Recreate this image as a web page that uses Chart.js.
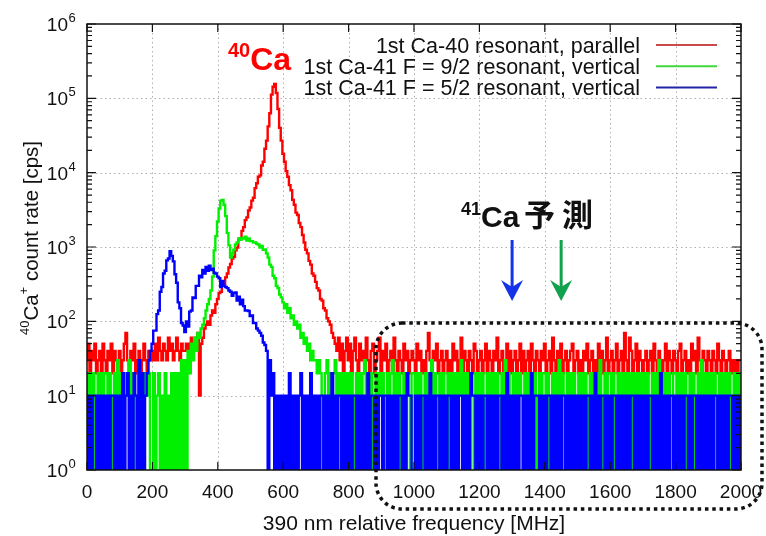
<!DOCTYPE html>
<html>
<head>
<meta charset="utf-8">
<script src="https://cdn.jsdelivr.net/npm/chart.js@4.4.1/dist/chart.umd.min.js"></script>
<style>
  html, body { margin: 0; padding: 0; background: #fff; }
  #wrap { position: relative; width: 766px; height: 536px; }
</style>
</head>
<body>
<div id="wrap"><canvas id="spectrum"></canvas></div>
<script>
'use strict';

// ******** DATA (one value every 5 MHz) ********************************
const stepMHz = 5;

// 1st Ca-40 resonant, parallel  [cps]
const redCps = [
  30,50,20,40,30,50,20,30,40,20,50,30,20,40,30,50,20,40,30,20,       // 0-95
  40,20,30,50,70,30,20,40,30,50,20,30,40,20,30,50,30,20,40,30,       // 100-195
  40,30,50,30,60,40,30,50,40,30,60,40,50,30,40,60,40,30,50,40,       // 200-295
  40,50,40,50,60,50,50,60,70,10,50,60,80,90,100,90,120,140,130,170,  // 300-395
  200,240,250,310,320,390,440,530,590,700,740,900,980,1250,1300,1650,1850,2300,2500,3100, // 400-495
  3400,4200,4600,6200,7200,8800,9200,12500,14000,21000,27000,42000,63000,112000,143000,156000,118000,72000,40000,27000, // 500-595
  18000,14000,10500,8800,6800,5800,4300,3700,2900,2700,2100,1850,1450,1150,920,820,650,580,440,410, // 600-695
  340,280,260,200,190,150,140,110,100,90,70,60,50,40,60,30,50,20,40,60, // 700-795
  30,50,20,40,60,30,20,50,30,40,20,60,30,20,40,50,20,30,40,60,       // 800-895
  20,40,30,50,20,30,40,20,60,30,20,40,30,20,50,30,40,20,30,40,       // 900-995
  30,20,50,30,40,20,30,20,40,70,30,20,40,30,50,20,30,40,20,30,       // 1000-1095
  40,20,30,20,50,30,40,20,30,60,20,40,30,20,40,30,20,50,40,20,       // 1100-1195
  30,40,20,30,50,20,40,30,20,40,30,60,20,30,40,20,30,50,20,40,       // 1200-1295
  20,30,40,20,30,50,20,40,20,30,40,20,50,30,20,40,30,20,40,30,       // 1300-1395
  50,20,30,40,20,60,30,20,40,30,50,20,30,40,20,30,40,50,20,30,       // 1400-1495
  40,20,30,20,40,30,50,20,30,40,20,30,20,50,30,40,20,30,60,20,       // 1500-1595
  30,40,20,30,50,20,30,40,20,70,30,20,60,40,20,30,50,20,40,30,       // 1600-1695
  20,30,40,20,30,40,20,50,30,20,40,30,20,30,50,20,40,30,20,40,       // 1700-1795
  30,20,40,50,20,30,40,20,30,20,50,30,40,20,60,30,20,40,30,20,       // 1800-1895
  40,30,20,40,30,20,50,30,20,40,30,20,30,40,20,30,20,30,20,30,       // 1900-1995
  30
];

// 1st Ca-41 F = 9/2 resonant, vertical  [cps]  (1 = no counts)
const greenCps = [
  20,10,20,10,20,1,10,20,10,20,10,20,20,10,20,10,1,20,10,30,
  10,20,10,20,10,20,30,10,20,10,1,10,20,10,20,10,20,10,20,1,
  1,20,1,10,20,1,10,1,20,1,10,1,20,1,20,1,20,1,30,1,
  30,1,40,20,50,30,60,40,70,60,80,90,110,140,170,200,260,400,900,1400,
  2200,3300,4200,4300,3700,2600,1550,1050,720,820,920,1080,1150,1300,1250,1320,1300,1380,1220,1300,
  1200,1200,1150,1150,1100,1080,980,1030,920,930,820,720,580,540,410,380,300,280,230,210,
  180,150,170,130,150,110,120,90,100,80,90,60,70,50,60,40,50,30,40,30,
  30,20,30,20,1,10,20,30,10,20,10,20,30,10,20,1,20,10,20,10,
  20,10,20,10,1,20,10,20,10,20,30,10,20,10,20,1,10,20,10,20,
  10,20,10,1,20,10,20,30,10,20,10,20,1,10,20,10,20,10,1,20,
  20,10,20,10,20,10,1,20,10,20,10,30,10,20,10,1,20,10,20,10,
  10,20,1,20,10,20,10,20,10,30,1,20,10,20,10,20,10,1,20,10,
  20,10,20,10,1,20,10,20,10,20,10,20,10,1,20,10,30,10,20,10,
  10,20,10,20,10,20,10,1,20,10,20,10,20,10,20,1,10,20,10,20,
  20,10,20,1,10,20,10,20,10,30,10,20,1,10,20,10,20,10,20,10,
  10,20,10,20,10,20,10,1,20,10,20,10,20,10,30,10,1,20,10,20,
  20,10,20,1,10,20,10,20,10,20,10,20,10,20,1,20,10,20,10,20,
  10,20,10,20,10,1,20,10,20,10,30,10,20,10,20,10,20,10,1,20,
  20,10,20,10,20,10,20,1,10,20,10,20,1,10,20,10,30,10,20,10,
  20,10,20,10,20,1,10,20,10,20,10,20,10,20,1,10,20,10,20,10,
  20
];

// 1st Ca-41 F = 5/2 resonant, vertical  [cps]  (1 = no counts)
const blueCps = [
  10,1,10,1,10,10,1,10,1,10,1,10,1,10,1,10,10,1,10,1,
  10,1,20,1,10,20,1,10,1,20,10,1,30,1,20,1,10,20,30,40,
  50,75,75,125,140,250,290,440,480,660,700,880,760,640,430,330,180,150,95,88,
  72,100,85,135,140,210,205,300,300,410,390,490,440,540,480,560,490,510,450,440,
  400,380,290,350,300,290,280,260,250,220,240,245,190,215,170,195,160,140,140,138,
  118,120,95,95,80,75,70,64,52,48,40,1,30,10,20,1,10,1,10,1,
  10,1,10,1,20,1,10,1,10,1,10,20,1,10,1,10,1,20,1,10,
  1,10,1,10,10,1,10,1,10,1,20,1,10,1,10,10,1,10,1,10,
  1,10,1,10,10,1,10,1,10,1,10,1,20,1,10,10,1,10,1,10,
  10,1,10,10,1,10,1,10,1,10,1,10,10,1,10,1,20,10,10,1,
  1,10,1,10,1,10,10,1,10,1,20,1,10,1,10,10,1,10,1,10,
  1,10,10,1,10,1,10,1,10,10,1,10,1,10,1,20,10,10,1,10,
  1,10,1,10,10,1,10,1,10,1,10,1,10,10,1,10,1,20,1,10,
  1,10,1,10,1,10,10,1,10,1,10,1,20,1,10,10,10,1,10,1,
  10,1,10,10,1,10,1,10,1,10,1,10,10,1,10,1,10,1,10,1,
  10,1,10,1,10,1,10,10,1,10,1,20,1,10,1,10,10,1,10,1,
  10,1,10,10,1,10,1,10,1,10,1,10,1,10,10,1,10,1,10,1,
  10,1,10,1,10,10,1,10,1,10,1,20,1,10,1,10,1,10,10,1,
  10,1,10,1,10,1,10,10,1,10,1,10,10,1,10,1,10,1,10,1,
  10,1,10,1,10,10,1,10,1,10,1,10,1,10,10,1,10,1,10,1,
  10
];

const seriesNames = [
  '1st Ca-40 resonant, parallel',
  '1st Ca-41 F = 9/2 resonant, vertical',
  '1st Ca-41 F = 5/2 resonant, vertical'
];

// tick labels
const xTickValues = [0, 200, 400, 600, 800, 1000, 1200, 1400, 1600, 1800, 2000];
const yTickPowers = [0, 1, 2, 3, 4, 5, 6];

// where the 41Ca lines are predicted (arrows), MHz
const predictedMHz = [1300, 1450];

const freqMHz = redCps.map((v, i) => i * stepMHz);

// ********* DRAWING HELPERS ****************
const FONT = '"Liberation Sans", Arial, sans-serif';

function drawRuns(ctx, runs, x, y) {
  // runs: [text, font, dy]
  let cx = x;
  runs.forEach(r => {
    ctx.font = r[1];
    ctx.fillText(r[0], cx, y + (r[2] || 0));
    cx += ctx.measureText(r[0]).width;
  });
  return cx;
}

function runsWidth(ctx, runs) {
  let w = 0;
  runs.forEach(r => { ctx.font = r[1]; w += ctx.measureText(r[0]).width; });
  return w;
}

function drawArrow(ctx, x, y0, y1, color) {
  ctx.save();
  ctx.strokeStyle = color;
  ctx.fillStyle = color;
  ctx.lineWidth = 3;
  ctx.beginPath();
  ctx.moveTo(x, y0);
  ctx.lineTo(x, y1 - 12);
  ctx.stroke();
  ctx.beginPath();
  ctx.moveTo(x, y1);
  ctx.lineTo(x - 11, y1 - 21);
  ctx.lineTo(x, y1 - 14);
  ctx.lineTo(x + 11, y1 - 21);
  ctx.closePath();
  ctx.fill();
  ctx.restore();
}

function roundedRectPath(ctx, x, y, w, h, r) {
  ctx.beginPath();
  ctx.moveTo(x + r, y);
  ctx.lineTo(x + w - r, y);
  ctx.arcTo(x + w, y, x + w, y + r, r);
  ctx.lineTo(x + w, y + h - r);
  ctx.arcTo(x + w, y + h, x + w - r, y + h, r);
  ctx.lineTo(x + r, y + h);
  ctx.arcTo(x, y + h, x, y + h - r, r);
  ctx.lineTo(x, y + r);
  ctx.arcTo(x, y, x + r, y, r);
  ctx.closePath();
}

// ********* GNUPLOT-STYLE FRAME PLUGIN ***********
const gnuplotFrame = {
  id: 'gnuplotFrame',
  beforeDatasetsDraw(chart) {
    const { ctx, chartArea: a, scales: { x, y } } = chart;
    ctx.save();
    ctx.strokeStyle = '#b0b0b0';
    ctx.lineWidth = 1;
    ctx.setLineDash([1.5, 3]);
    xTickValues.slice(1, -1).forEach(v => {
      const px = Math.round(x.getPixelForValue(v)) + 0.5;
      ctx.beginPath(); ctx.moveTo(px, a.top); ctx.lineTo(px, a.bottom); ctx.stroke();
    });
    yTickPowers.slice(1, -1).forEach(p => {
      const py = Math.round(y.getPixelForValue(Math.pow(10, p))) + 0.5;
      ctx.beginPath(); ctx.moveTo(a.left, py); ctx.lineTo(a.right, py); ctx.stroke();
    });
    ctx.restore();
  },
  afterDraw(chart) {
    const { ctx, chartArea: a, scales: { x, y } } = chart;
    ctx.save();

    // border + ticks
    ctx.strokeStyle = '#111';
    ctx.lineWidth = 1.5;
    ctx.strokeRect(a.left, a.top, a.right - a.left, a.bottom - a.top);
    ctx.lineWidth = 1.2;
    ctx.beginPath();
    xTickValues.forEach(v => {
      const px = x.getPixelForValue(v);
      ctx.moveTo(px, a.bottom); ctx.lineTo(px, a.bottom - 8);
      ctx.moveTo(px, a.top); ctx.lineTo(px, a.top + 8);
    });
    yTickPowers.forEach(p => {
      const py = y.getPixelForValue(Math.pow(10, p));
      ctx.moveTo(a.left, py); ctx.lineTo(a.left + 9, py);
      ctx.moveTo(a.right, py); ctx.lineTo(a.right - 9, py);
      if (p < 6) {
        for (let m = 2; m <= 9; m++) {
          const pm = y.getPixelForValue(m * Math.pow(10, p));
          ctx.moveTo(a.left, pm); ctx.lineTo(a.left + 5, pm);
          ctx.moveTo(a.right, pm); ctx.lineTo(a.right - 5, pm);
        }
      }
    });
    ctx.stroke();

    // tick labels
    ctx.fillStyle = '#111';
    ctx.textBaseline = 'alphabetic';
    ctx.font = '19px ' + FONT;
    ctx.textAlign = 'center';
    xTickValues.forEach(v => {
      ctx.fillText(String(v), x.getPixelForValue(v), a.bottom + 28);
    });
    ctx.textAlign = 'left';
    yTickPowers.forEach(p => {
      const py = y.getPixelForValue(Math.pow(10, p));
      ctx.font = '19px ' + FONT;
      const w = ctx.measureText('10').width;
      ctx.fillText('10', 68 - w, py + 7);
      ctx.font = '13px ' + FONT;
      ctx.fillText(String(p), 68.5, py - 2);
    });

    // axis titles
    ctx.font = '21px ' + FONT;
    ctx.textAlign = 'center';
    ctx.fillText('390 nm relative frequency [MHz]', (a.left + a.right) / 2, 530);

    ctx.save();
    ctx.translate(38, 238);
    ctx.rotate(-Math.PI / 2);
    ctx.textAlign = 'left';
    const yTitle = [
      ['40', '13px ' + FONT, -9],
      ['Ca', '20.5px ' + FONT, 0],
      ['+', '13px ' + FONT, -10],
      [' count rate [cps]', '20.5px ' + FONT, 0]
    ];
    drawRuns(ctx, yTitle, -runsWidth(ctx, yTitle) / 2, 0);
    ctx.restore();

    // legend (gnuplot style: text right aligned, sample line on the right)
    ctx.textAlign = 'right';
    ctx.font = '21.5px ' + FONT;
    const legendColors = ['#c84a4a', '#3ed83e', '#2424a8'];
    seriesNames.forEach((name, i) => {
      const ly = 45 + i * 21.3;
      ctx.fillStyle = '#111';
      ctx.fillText(name, 640, ly + 7.5);
      ctx.strokeStyle = legendColors[i];
      ctx.lineWidth = 2;
      ctx.beginPath(); ctx.moveTo(656, ly); ctx.lineTo(717, ly); ctx.stroke();
    });

    // 40Ca label
    ctx.textAlign = 'left';
    ctx.fillStyle = '#ff0000';
    drawRuns(ctx, [
      ['40', 'bold 20px ' + FONT, -13],
      ['Ca', 'bold 32px ' + FONT, 0]
    ], 228, 70);

    // 41Ca prediction label
    ctx.fillStyle = '#111';
    drawRuns(ctx, [
      ['41', 'bold 18px ' + FONT, -12],
      ['Ca', 'bold 30px ' + FONT, 0]
    ], 461, 227);
    ctx.font = 'bold 31px "Noto Sans CJK JP", sans-serif';
    ctx.fillText('予', 524, 226);
    ctx.fillText('測', 562, 226);

    // arrows at predicted positions
    drawArrow(ctx, x.getPixelForValue(predictedMHz[0]), 240, 301, '#1432e8');
    drawArrow(ctx, x.getPixelForValue(predictedMHz[1]), 240, 301, '#12a24e');

    // dotted rounded box round the flat region
    ctx.strokeStyle = '#111';
    ctx.lineWidth = 3.5;
    ctx.setLineDash([3.5, 3.8]);
    roundedRectPath(ctx, 376, 323, 386, 186, 26);
    ctx.stroke();

    ctx.restore();
  }
};

// ********* CHART *************
const baseSet = {
  pointRadius: 0,
  stepped: 'middle',
  borderWidth: 2.4,
  tension: 0
};

new Chart(document.getElementById('spectrum'), {
  type: 'line',
  data: {
    labels: freqMHz,
    datasets: [
      Object.assign({ label: seriesNames[0], data: redCps, borderColor: '#ff0000', order: 3 }, baseSet),
      Object.assign({ label: seriesNames[1], data: greenCps, borderColor: '#00f000', order: 2 }, baseSet),
      Object.assign({ label: seriesNames[2], data: blueCps, borderColor: '#0000ff', order: 1 }, baseSet)
    ]
  },
  options: {
    responsive: true,
    maintainAspectRatio: false,
    animation: false,
    layout: { padding: { top: 24, right: 25, left: 0, bottom: 0 } },
    plugins: { legend: { display: false }, tooltip: { enabled: false } },
    scales: {
      x: {
        type: 'linear', min: 0, max: 2000,
        ticks: { display: false },
        grid: { display: false },
        border: { display: false },
        afterFit: s => { s.height = 66; }
      },
      y: {
        type: 'logarithmic', min: 1, max: 1e6,
        ticks: { display: false },
        grid: { display: false },
        border: { display: false },
        afterFit: s => { s.width = 87; }
      }
    }
  },
  plugins: [gnuplotFrame]
});
</script>
</body>
</html>
